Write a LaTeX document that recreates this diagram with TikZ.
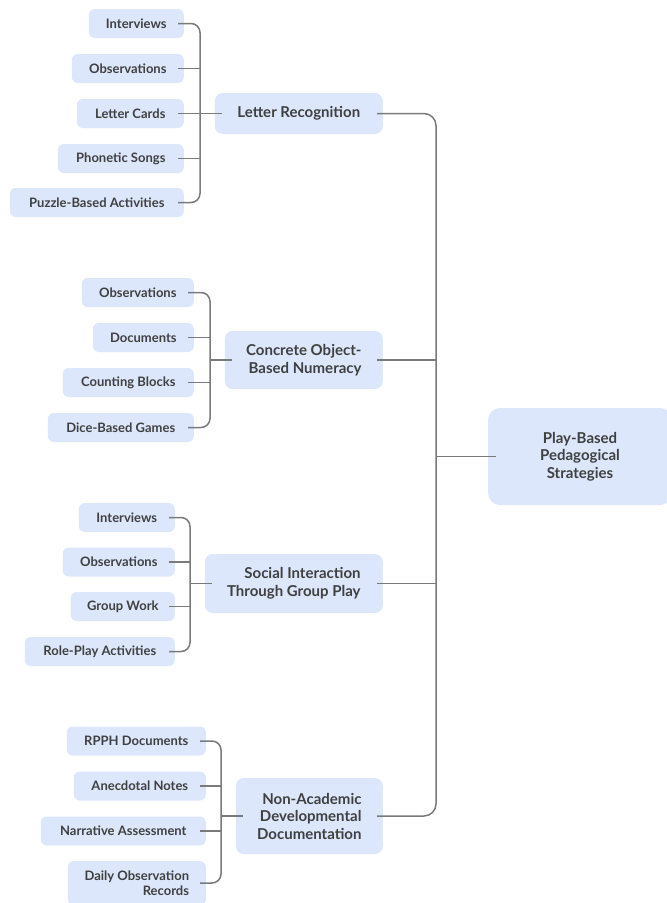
\documentclass[tikz,border=0pt]{standalone}
\usepackage{fontspec}
\setmainfont{Lato}
\usetikzlibrary{calc}
\definecolor{boxfill}{HTML}{DCE7FC}
\definecolor{txt}{HTML}{404040}
\definecolor{lnc}{HTML}{7A7A7A}
\begin{document}
\begin{tikzpicture}[x=1pt,y=-1pt,
  leaf/.style={fill=boxfill, rounded corners=6pt, minimum height=29pt, anchor=east, text=txt,
    font=\fontsize{13}{14.5}\selectfont\bfseries, inner sep=0pt, align=right},
  mid/.style={fill=boxfill, rounded corners=8pt, anchor=east, text=txt,
    font=\fontsize{15}{17.5}\selectfont\bfseries, inner sep=0pt, align=right},
  rootbox/.style={fill=boxfill, rounded corners=12pt, text=txt,
    font=\fontsize{15}{17.5}\selectfont\bfseries, inner sep=0pt, align=center},
  conn/.style={draw=lnc, line width=1.5pt}]
\useasboundingbox[fill=white] (0,0) rectangle (667,903);

% root
\node[rootbox, minimum width=184pt, minimum height=97pt] (root) at (580,456.5) {Play-Based\\Pedagogical\\Strategies};

% level 1
\node[mid, minimum width=168pt, minimum height=41pt] (lr) at (383,113.5) {Letter Recognition};
\node[mid, minimum width=158pt, minimum height=58pt] (co) at (383,360) {Concrete Object-\\Based Numeracy};
\node[mid, minimum width=178pt, minimum height=59pt] (so) at (383,583.5) {Social Interaction\\Through Group Play};
\node[mid, minimum width=147pt, minimum height=76pt] (na) at (383,816) {Non-Academic\\Developmental\\Documentation};

% group 1
\node[leaf, minimum width=95pt] (a1) at (184,23.5) {Interviews};
\node[leaf, minimum width=112pt] (a2) at (184,68.5) {Observations};
\node[leaf, minimum width=107pt] (a3) at (184,113.5) {Letter Cards};
\node[leaf, minimum width=126pt] (a4) at (184,158.5) {Phonetic Songs};
\node[leaf, minimum width=174pt] (a5) at (184,202.5) {Puzzle-Based Activities};

% group 2
\node[leaf, minimum width=112pt] (b1) at (194,292.5) {Observations};
\node[leaf, minimum width=101pt] (b2) at (194,337.5) {Documents};
\node[leaf, minimum width=131pt] (b3) at (194,382.5) {Counting Blocks};
\node[leaf, minimum width=146pt] (b4) at (194,427.5) {Dice-Based Games};

% group 3
\node[leaf, minimum width=96pt] (c1) at (175,517.5) {Interviews};
\node[leaf, minimum width=112pt] (c2) at (175,562) {Observations};
\node[leaf, minimum width=104pt] (c3) at (175,606.5) {Group Work};
\node[leaf, minimum width=150pt] (c4) at (175,651.5) {Role-Play Activities};

% group 4
\node[leaf, minimum width=139pt] (d1) at (206,741) {RPPH Documents};
\node[leaf, minimum width=132pt] (d2) at (206,786) {Anecdotal Notes};
\node[leaf, minimum width=165pt] (d3) at (206,831) {Narrative Assessment};
\node[leaf, minimum width=138pt, minimum height=44pt] (d4) at (206,883) {Daily Observation\\Records};

% trunk coordinates
\coordinate (t1) at (200,113.5);
\coordinate (t2) at (210,360);
\coordinate (t3) at (190,583.5);
\coordinate (t4) at (221,816);
\coordinate (mt) at (436,456.5);

% group 1 connectors
\draw[conn, rounded corners=9pt] ([xshift=-6pt]a1.east) -| (t1) |- ([xshift=-6pt]a5.east);
\draw[conn] ([xshift=-6pt]a2.east) -- (a2 -| t1);
\draw[conn] ([xshift=-6pt]a3.east) -- (a3 -| t1);
\draw[conn] ([xshift=-6pt]a4.east) -- (a4 -| t1);
\draw[conn] (t1) -- ([xshift=7pt]lr.west);

% group 2 connectors
\draw[conn, rounded corners=9pt] ([xshift=-6pt]b1.east) -| (t2) |- ([xshift=-6pt]b4.east);
\draw[conn] ([xshift=-6pt]b2.east) -- (b2 -| t2);
\draw[conn] ([xshift=-6pt]b3.east) -- (b3 -| t2);
\draw[conn] (t2) -- ([xshift=7pt]co.west);

% group 3 connectors
\draw[conn, rounded corners=9pt] ([xshift=-6pt]c1.east) -| (t3) |- ([xshift=-6pt]c4.east);
\draw[conn] ([xshift=-6pt]c2.east) -- (c2 -| t3);
\draw[conn] ([xshift=-6pt]c3.east) -- (c3 -| t3);
\draw[conn] (t3) -- ([xshift=7pt]so.west);

% group 4 connectors
\draw[conn, rounded corners=9pt] ([xshift=-6pt]d1.east) -| (t4) |- ([xshift=-6pt]d4.east);
\draw[conn] ([xshift=-6pt]d2.east) -- (d2 -| t4);
\draw[conn] ([xshift=-6pt]d3.east) -- (d3 -| t4);
\draw[conn] (t4) -- ([xshift=7pt]na.west);

% main connectors
\draw[conn, rounded corners=12pt] ([xshift=-6pt]lr.east) -| (mt) |- ([xshift=-6pt]na.east);
\draw[conn] ([xshift=-6pt]co.east) -- (co -| mt);
\draw[conn] ([xshift=-6pt]so.east) -- (so -| mt);
\draw[conn] (mt) -- ([xshift=8pt]root.west);
\end{tikzpicture}
\end{document}
